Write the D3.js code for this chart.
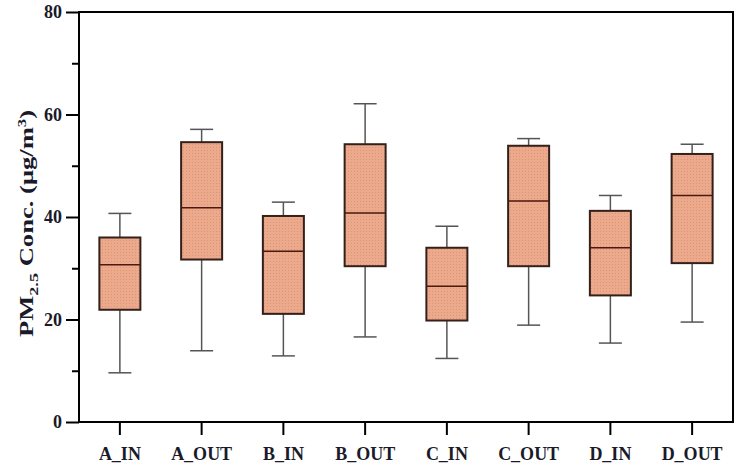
<!DOCTYPE html>
<html>
<head>
<meta charset="utf-8">
<script src="https://cdn.jsdelivr.net/npm/d3@7"></script>
<style>
  body { margin: 0; background: #fff; }
  svg { display: block; }
</style>
</head>
<body>
<main></main>
<script>
const width = 742;
const height = 470;
const margin = { top: 12, right: 9, bottom: 48, left: 79 };

const groups = ['A_IN', 'A_OUT', 'B_IN', 'B_OUT', 'C_IN', 'C_OUT', 'D_IN', 'D_OUT'];
const mins = [9.6, 13.9, 12.9, 16.6, 12.4, 18.9, 15.4, 19.5];
const q1s = [21.9, 31.7, 21.1, 30.4, 19.8, 30.4, 24.7, 31.0];
const medians = [30.7, 41.8, 33.3, 40.8, 26.5, 43.1, 34.0, 44.2];
const q3s = [36.0, 54.6, 40.2, 54.2, 34.0, 53.9, 41.2, 52.3];
const maxs = [40.7, 57.1, 42.9, 62.1, 38.2, 55.3, 44.2, 54.2];
const yTicks = [0, 20, 40, 60, 80];
const yMinorTicks = [10, 30, 50, 70];

const boxes = groups.map((g, i) => ({
  name: g, min: mins[i], q1: q1s[i], median: medians[i], q3: q3s[i], max: maxs[i]
}));

const serif = '"Liberation Serif", "Times New Roman", serif';

const xScale = d3.scaleBand()
  .domain(groups)
  .range([margin.left, width - margin.right])
  .paddingInner(0.5)
  .paddingOuter(0.25)

const yScale = d3.scaleLinear()
  .domain([0, 80])
  .range([height - margin.bottom, margin.top])

const svg = d3.select('main')
  .append('svg')
  .attr('width', width)
  .attr('height', height)

// dotted fill like the original
const pattern = svg.append('defs')
  .append('pattern')
  .attr('id', 'dots')
  .attr('width', 3)
  .attr('height', 3)
  .attr('patternUnits', 'userSpaceOnUse')
pattern.append('rect')
  .attr('width', 3)
  .attr('height', 3)
  .attr('fill', '#eca98b')
pattern.append('rect')
  .attr('width', 1)
  .attr('height', 1)
  .attr('fill', '#d8957a')

const boxW = 41;
const capW = 23;
const cx = d => xScale(d.name) + xScale.bandwidth() / 2;

const g = svg.selectAll('.box')
  .data(boxes)
  .enter()
  .append('g')
  .attr('class', 'box')

// whiskers
g.append('line')
  .attr('x1', cx).attr('x2', cx)
  .attr('y1', d => yScale(d.max)).attr('y2', d => yScale(d.q3))
  .style('stroke', '#555').style('stroke-width', 1.5)
g.append('line')
  .attr('x1', cx).attr('x2', cx)
  .attr('y1', d => yScale(d.q1)).attr('y2', d => yScale(d.min))
  .style('stroke', '#555').style('stroke-width', 1.5)
g.append('line')
  .attr('x1', d => cx(d) - capW / 2).attr('x2', d => cx(d) + capW / 2)
  .attr('y1', d => yScale(d.max)).attr('y2', d => yScale(d.max))
  .style('stroke', '#555').style('stroke-width', 1.5)
g.append('line')
  .attr('x1', d => cx(d) - capW / 2).attr('x2', d => cx(d) + capW / 2)
  .attr('y1', d => yScale(d.min)).attr('y2', d => yScale(d.min))
  .style('stroke', '#555').style('stroke-width', 1.5)

// boxes
g.append('rect')
  .attr('x', d => cx(d) - boxW / 2)
  .attr('y', d => yScale(d.q3))
  .attr('width', boxW)
  .attr('height', d => yScale(d.q1) - yScale(d.q3))
  .style('fill', 'url(#dots)')
  .style('stroke', '#33201a')
  .style('stroke-width', 2)

// medians
g.append('line')
  .attr('x1', d => cx(d) - boxW / 2).attr('x2', d => cx(d) + boxW / 2)
  .attr('y1', d => yScale(d.median)).attr('y2', d => yScale(d.median))
  .style('stroke', '#4a1a10').style('stroke-width', 1.5)

// frame
svg.append('rect')
  .attr('x', margin.left)
  .attr('y', margin.top)
  .attr('width', width - margin.left - margin.right)
  .attr('height', height - margin.top - margin.bottom)
  .style('fill', 'none')
  .style('stroke', '#000')
  .style('stroke-width', 2)

// y-axis
const yAxis = svg.append('g')
  .attr('transform', `translate(${margin.left}, 0)`)
  .call(d3.axisLeft(yScale).tickValues(yTicks).tickSize(13).tickPadding(4).tickFormat(d3.format('d')))
yAxis.select('.domain').remove()
yAxis.selectAll('line').style('stroke', '#000').style('stroke-width', 2)
yAxis.selectAll('text')
  .style('font-family', serif)
  .style('font-size', '18px')
  .style('font-weight', 'bold')
  .style('fill', '#1a1a2a')

const yMinor = svg.append('g')
  .attr('transform', `translate(${margin.left}, 0)`)
  .call(d3.axisLeft(yScale).tickValues(yMinorTicks).tickSize(7).tickFormat(''))
yMinor.select('.domain').remove()
yMinor.selectAll('line').style('stroke', '#000').style('stroke-width', 2)

// x-axis
const xAxis = svg.append('g')
  .attr('transform', `translate(0, ${height - margin.bottom})`)
  .call(d3.axisBottom(xScale).tickSize(13).tickPadding(12))
xAxis.select('.domain').remove()
xAxis.selectAll('line').style('stroke', '#000').style('stroke-width', 2)
xAxis.selectAll('text')
  .style('font-family', serif)
  .style('font-size', '18px')
  .style('font-weight', 'bold')
  .style('fill', '#1a1a2a')

// y label (stretched along its length like the original)
const label = svg.append('text')
  .attr('transform', `translate(33, ${(100 + 347) / 2}) rotate(-90) scale(1.4, 1)`)
  .attr('text-anchor', 'middle')
  .style('font-family', serif)
  .style('font-size', '19px')
  .style('font-weight', 'bold')
  .style('fill', '#1a1a2a')
label.append('tspan').text('PM')
label.append('tspan').text('2.5').attr('dy', 5).style('font-size', '13px')
label.append('tspan').text(' Conc. (μg/m').attr('dy', -5)
label.append('tspan').text('3').attr('dy', -7).style('font-size', '12px')
label.append('tspan').text(')').attr('dy', 7)
</script>
</body>
</html>
